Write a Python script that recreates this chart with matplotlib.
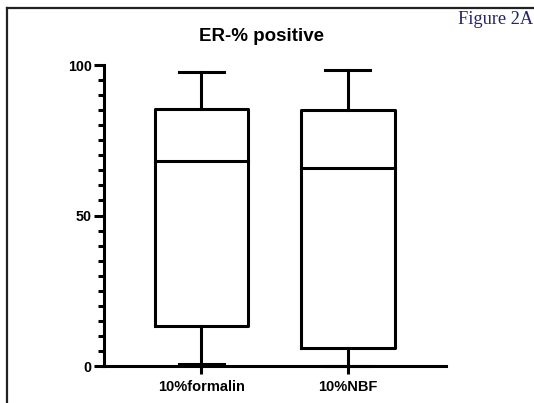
import matplotlib
matplotlib.use("Agg")
import matplotlib.pyplot as plt
from matplotlib.lines import Line2D
from matplotlib.ticker import MultipleLocator

categories = ["10%formalin", "10%NBF"]
whisker_low = [0.5, 0.0]
q1 = [13.3, 6.0]
median = [68.1, 65.8]
q3 = [85.4, 85.0]
whisker_high = [97.7, 98.3]
yticks = [0, 50, 100]

plt.rcParams['font.family'] = ['Liberation Sans', 'DejaVu Sans']

fig = plt.figure(figsize=(5.34, 4.03), dpi=100)
ax = fig.add_axes([0.1948, 0.0918, 0.6402, 0.7469])

stats = []
for i, c in enumerate(categories):
    stats.append(dict(label=c, whislo=whisker_low[i], q1=q1[i], med=median[i],
                      q3=q3[i], whishi=whisker_high[i], fliers=[]))

lw = 2.2
bp = ax.bxp(stats, positions=[1, 2], widths=0.64, showfliers=False,
            boxprops=dict(color='black', linewidth=lw),
            medianprops=dict(color='black', linewidth=lw),
            whiskerprops=dict(color='black', linewidth=lw),
            capprops=dict(color='black', linewidth=lw),
            capwidths=0.31)
for k in ['boxes', 'medians', 'whiskers', 'caps']:
    for a in bp[k]:
        a.set_clip_on(False)
        a.set_solid_capstyle('projecting')

ax.set_xlim(0.335, 2.67)
ax.set_ylim(0, 100)
ax.spines['top'].set_visible(False)
ax.spines['right'].set_visible(False)
ax.spines['left'].set_linewidth(lw)
ax.spines['bottom'].set_linewidth(lw)
ax.set_yticks(yticks)
ax.yaxis.set_minor_locator(MultipleLocator(5))
ax.tick_params(axis='y', which='major', length=7, width=lw, labelsize=10.3, pad=2)
ax.tick_params(axis='y', which='minor', length=4.5, width=lw)
ax.tick_params(axis='x', which='major', length=6, width=lw, labelsize=10.5, pad=4)
for lab in ax.get_xticklabels() + ax.get_yticklabels():
    lab.set_fontweight('bold')

fig.text(0.489, 0.91, "ER-% positive", ha='center', va='center',
         fontsize=13.5, fontweight='bold')
fig.text(0.999, 0.952, "Figure 2A", ha='right', va='center',
         fontsize=13.2, color='#25246b', family=['Liberation Serif', 'DejaVu Serif'])

fig.add_artist(Line2D([0.013, 1.0], [0.979, 0.979], color='#222222', linewidth=1.6,
                      transform=fig.transFigure))
fig.add_artist(Line2D([0.013, 0.013], [0.0, 0.979], color='#222222', linewidth=1.6,
                      transform=fig.transFigure))

fig.savefig("out.png", dpi=100)
